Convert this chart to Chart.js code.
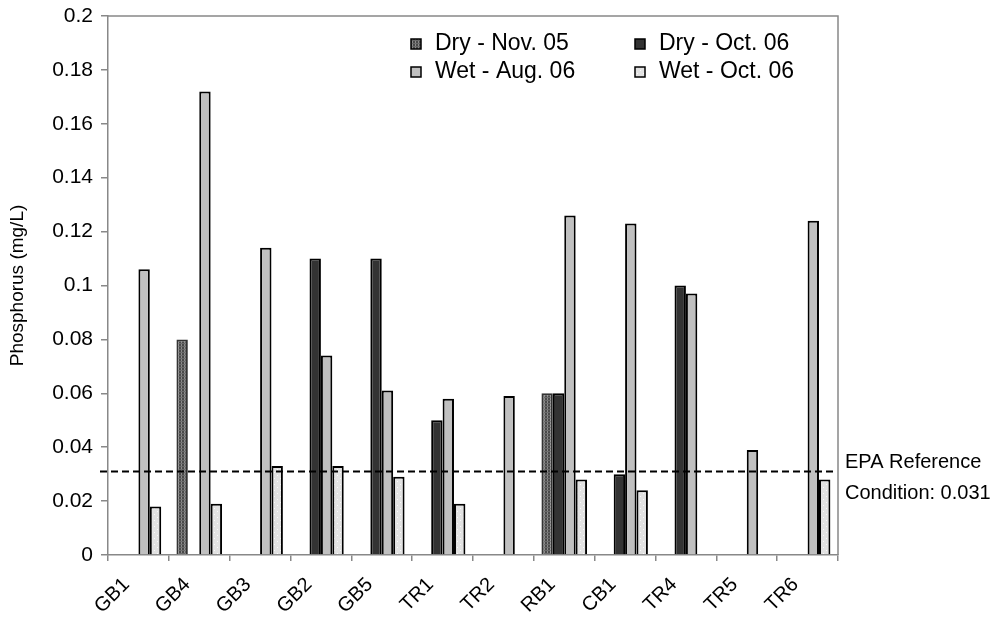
<!DOCTYPE html>
<html>
<head>
<meta charset="utf-8">
<script src="https://cdn.jsdelivr.net/npm/chart.js@4"></script>
<style>
  html, body { margin: 0; padding: 0; background: #fff; }
  #wrap { width: 998px; height: 618px; }
</style>
</head>
<body>
<div id="wrap"><canvas id="phos"></canvas></div>
<script>
const sites = ['GB1', 'GB4', 'GB3', 'GB2', 'GB5', 'TR1', 'TR2', 'RB1', 'CB1', 'TR4', 'TR5', 'TR6'];
const dryNov05 = [null, 0.08, null, null, null, null, null, 0.06, null, null, null, null];
const dryOct06 = [null, null, null, 0.11, 0.11, 0.05, null, 0.06, 0.03, 0.1, null, null];
const wetAug06 = [0.106, 0.172, 0.114, 0.074, 0.061, 0.058, 0.059, 0.126, 0.123, 0.097, 0.039, 0.124];
const wetOct06 = [0.018, 0.019, 0.033, 0.033, 0.029, 0.019, null, 0.028, 0.024, null, null, 0.028];
const seriesNames = ['Dry - Nov. 05', 'Dry - Oct. 06', 'Wet - Aug. 06', 'Wet - Oct. 06'];
const epaRef = 0.031;
const FONT = '"Liberation Sans", Arial, sans-serif';

function makePattern(w, h, draw) {
  const c = document.createElement('canvas');
  c.width = w; c.height = h;
  const g = c.getContext('2d');
  draw(g);
  return g.createPattern(c, 'repeat');
}

// hatched dark grey
const hatch = makePattern(3, 3, g => {
  g.fillStyle = '#4a4a4a'; g.fillRect(0, 0, 3, 3);
  g.fillStyle = '#8c8c8c'; g.fillRect(1, 0, 1, 3);
  g.fillStyle = '#6a6a6a'; g.fillRect(0, 1, 3, 1);
});
// light grey with dots
const dotted = makePattern(6, 6, g => {
  g.fillStyle = '#e2e2e2'; g.fillRect(0, 0, 6, 6);
  g.fillStyle = '#fafafa'; g.fillRect(1, 1, 1, 1); g.fillRect(4, 4, 1, 1);
});

const ds = (label, data, bg, border) => ({
  label, data, backgroundColor: bg, borderColor: border, borderWidth: 2,
  categoryPercentage: 0.75, barPercentage: 1.0
});

const decorations = {
  id: 'decorations',
  afterDatasetsDraw(chart) {
    const { ctx, chartArea: a, scales: { y } } = chart;
    ctx.save();
    // frame top/right
    ctx.strokeStyle = '#888';
    ctx.lineWidth = 1.5;
    ctx.beginPath();
    ctx.moveTo(a.left, a.top); ctx.lineTo(a.right, a.top); ctx.lineTo(a.right, a.bottom);
    ctx.stroke();
    // EPA reference line
    const yy = y.getPixelForValue(epaRef);
    ctx.strokeStyle = '#000';
    ctx.lineWidth = 2;
    ctx.setLineDash([7, 4]);
    ctx.beginPath();
    ctx.moveTo(a.left - 8, yy); ctx.lineTo(a.right - 5, yy);
    ctx.stroke();
    ctx.setLineDash([]);
    ctx.fillStyle = '#000';
    ctx.font = '20px ' + FONT;
    ctx.textBaseline = 'alphabetic';
    ctx.textAlign = 'left';
    ctx.fillText('EPA Reference', a.right + 7, yy - 3);
    ctx.fillText('Condition: ' + epaRef, a.right + 7, yy + 28);
    // legend
    const pos = [[411, 50], [635, 50], [411, 78], [635, 78]];
    ctx.font = '23px ' + FONT;
    chart.data.datasets.forEach((d, i) => {
      const [px, py] = pos[i];
      ctx.fillStyle = d.backgroundColor;
      ctx.fillRect(px, py - 11, 10, 10);
      ctx.lineWidth = 1.5;
      ctx.strokeStyle = '#000';
      ctx.strokeRect(px, py - 11, 10, 10);
      ctx.fillStyle = '#000';
      ctx.fillText(d.label, px + 24, py);
    });
    ctx.restore();
  }
};

new Chart(document.getElementById('phos'), {
  type: 'bar',
  data: {
    labels: sites,
    datasets: [
      ds(seriesNames[0], dryNov05, hatch, '#333'),
      ds(seriesNames[1], dryOct06, '#333333', '#000'),
      ds(seriesNames[2], wetAug06, '#c0c0c0', '#000'),
      ds(seriesNames[3], wetOct06, dotted, '#000')
    ]
  },
  options: {
    responsive: true,
    maintainAspectRatio: false,
    animation: false,
    layout: { padding: { top: 16, right: 160, left: 0, bottom: 0 } },
    plugins: { legend: { display: false }, tooltip: { enabled: false } },
    scales: {
      x: {
        afterFit(s) { s.height = 63; },
        grid: { drawOnChartArea: false, color: '#888', tickLength: 6, lineWidth: 1.5 },
        border: { color: '#888', width: 1.5 },
        ticks: {
          autoSkip: false, maxRotation: 45, minRotation: 45, padding: 12, labelOffset: -12,
          color: '#000', font: { family: FONT, size: 20 }
        }
      },
      y: {
        min: 0, max: 0.2,
        afterFit(s) { s.width = 108; s.paddingTop = 0; s.paddingBottom = 0; },
        grid: { drawOnChartArea: false, color: '#888', tickLength: 7, lineWidth: 1.5 },
        border: { color: '#888', width: 1.5 },
        title: {
          display: true, text: 'Phosphorus (mg/L)', color: '#000',
          font: { family: FONT, size: 19 }, padding: { top: 6, bottom: 0 }
        },
        ticks: {
          stepSize: 0.02, padding: 8, color: '#000',
          font: { family: FONT, size: 21 },
          callback: v => String(parseFloat(v.toFixed(2)))
        }
      }
    }
  },
  plugins: [decorations]
});
</script>
</body>
</html>
